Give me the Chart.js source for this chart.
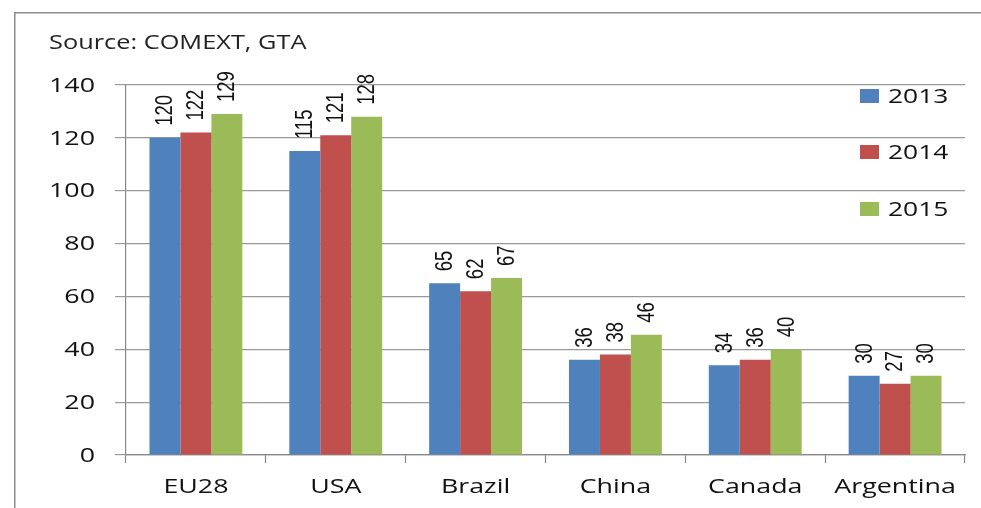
<!DOCTYPE html>
<html>
<head>
<meta charset="utf-8">
<script src="https://cdn.jsdelivr.net/npm/chart.js@4/dist/chart.umd.min.js"></script>
<style>
  html, body { margin: 0; padding: 0; background: #fff; overflow: hidden; }
  #wrap { position: relative; width: 981px; height: 508px; }
  canvas { display: block; }
</style>
</head>
<body>
<div id="wrap"><canvas id="c" width="981" height="508"></canvas></div>
<script>
const categories = ["EU28", "USA", "Brazil", "China", "Canada", "Argentina"];
const seriesNames = ["2013", "2014", "2015"];
const values2013 = [120, 115, 65, 36, 34, 30];
const values2014 = [122, 121, 62, 38, 36, 27];
const values2015 = [129, 128, 67, 45.5, 40, 30];
const labels2013 = ["120", "115", "65", "36", "34", "30"];
const labels2014 = ["122", "121", "62", "38", "36", "27"];
const labels2015 = ["129", "128", "67", "46", "40", "30"];
const yTicks = [0, 20, 40, 60, 80, 100, 120, 140];
const sourceText = "Source: COMEXT, GTA";
const colors = ["#4F81BD", "#C0504D", "#9BBB59"];

const PLOT_LEFT = 126, PLOT_RIGHT = 965, PLOT_TOP = 85, PLOT_BOTTOM = 455;
const W = 981, H = 508;
const FONT = '"Open Sans", "Noto Sans", sans-serif';
const SX = 1.34; // horizontal stretch of the reference text

function stretchedText(ctx, text, x, y, align, sx) {
  ctx.save();
  ctx.translate(x, y);
  ctx.scale(sx, 1);
  ctx.textAlign = align;
  ctx.fillText(text, 0, 0);
  ctx.restore();
}

const framePlugin = {
  id: 'frame',
  beforeDraw(chart) {
    const ctx = chart.ctx;
    ctx.save();
    ctx.fillStyle = '#8c8c8c';
    ctx.fillRect(14, 12, W - 14, 1.5);
    ctx.fillRect(14, 12, 1.5, H - 12);
    ctx.fillStyle = '#222';
    ctx.font = '19.5px ' + FONT;
    ctx.textBaseline = 'middle';
    stretchedText(ctx, sourceText, 49, 43, 'left', 1.3);
    ctx.restore();
  }
};

const textPlugin = {
  id: 'axisText',
  afterDraw(chart) {
    const ctx = chart.ctx;
    ctx.save();
    ctx.fillStyle = '#111';
    ctx.font = '20px ' + FONT;
    ctx.textBaseline = 'middle';
    const ys = chart.scales.y;
    ys.ticks.forEach(t => {
      stretchedText(ctx, String(t.value), 95, ys.getPixelForValue(t.value) + 1, 'right', SX);
    });
    const xs = chart.scales.x;
    categories.forEach((c, i) => {
      stretchedText(ctx, c, xs.getPixelForTick(i), 487, 'center', SX);
    });
    // legend
    const lys = [96, 152, 209];
    chart.data.datasets.forEach((ds, i) => {
      ctx.fillStyle = ds.backgroundColor;
      ctx.fillRect(860, lys[i] - 7, 19, 14);
      ctx.fillStyle = '#111';
      stretchedText(ctx, ds.label, 888, lys[i] + 1, 'left', 1.32);
    });
    ctx.restore();
  }
};

const labelPlugin = {
  id: 'barLabels',
  afterDatasetsDraw(chart) {
    const ctx = chart.ctx;
    const lbls = [labels2013, labels2014, labels2015];
    ctx.save();
    ctx.fillStyle = '#111';
    ctx.font = '18.5px "Liberation Sans", Arial, sans-serif';
    ctx.textBaseline = 'middle';
    ctx.textAlign = 'left';
    chart.data.datasets.forEach((ds, di) => {
      const meta = chart.getDatasetMeta(di);
      meta.data.forEach((bar, i) => {
        ctx.save();
        ctx.translate(bar.x + 1, bar.y - 12);
        ctx.rotate(-Math.PI / 2);
        ctx.scale(1, 1.25);
        ctx.fillText(lbls[di][i], 0, 0);
        ctx.restore();
      });
    });
    ctx.restore();
  }
};

new Chart(document.getElementById('c'), {
  type: 'bar',
  data: {
    labels: categories,
    datasets: [
      { label: seriesNames[0], data: values2013, backgroundColor: colors[0] },
      { label: seriesNames[1], data: values2014, backgroundColor: colors[1] },
      { label: seriesNames[2], data: values2015, backgroundColor: colors[2] }
    ]
  },
  options: {
    responsive: false,
    animation: false,
    devicePixelRatio: 1,
    layout: { padding: { left: 0, right: W - PLOT_RIGHT, top: PLOT_TOP, bottom: 0 } },
    plugins: { legend: { display: false }, tooltip: { enabled: false } },
    datasets: { bar: { categoryPercentage: 0.664, barPercentage: 1.0 } },
    scales: {
      x: {
        afterFit(scale) { scale.height = H - PLOT_BOTTOM; },
        grid: { display: true, drawOnChartArea: false, offset: true, color: '#888', tickLength: 8, tickWidth: 1.2 },
        border: { display: true, color: '#888', width: 1.2 },
        ticks: { color: 'rgba(0,0,0,0)', font: { size: 20, family: FONT }, padding: 6, maxRotation: 0, autoSkip: false }
      },
      y: {
        min: 0, max: 140,
        afterFit(scale) { scale.width = PLOT_LEFT; },
        afterBuildTicks(scale) { scale.ticks = yTicks.map(v => ({ value: v })); },
        grid: { color: '#999', lineWidth: 1.2, tickLength: 11 },
        border: { display: true, color: '#888', width: 1.2 },
        ticks: { color: 'rgba(0,0,0,0)', font: { size: 20, family: FONT }, padding: 20 }
      }
    }
  },
  plugins: [framePlugin, labelPlugin, textPlugin]
});
</script>
</body>
</html>
